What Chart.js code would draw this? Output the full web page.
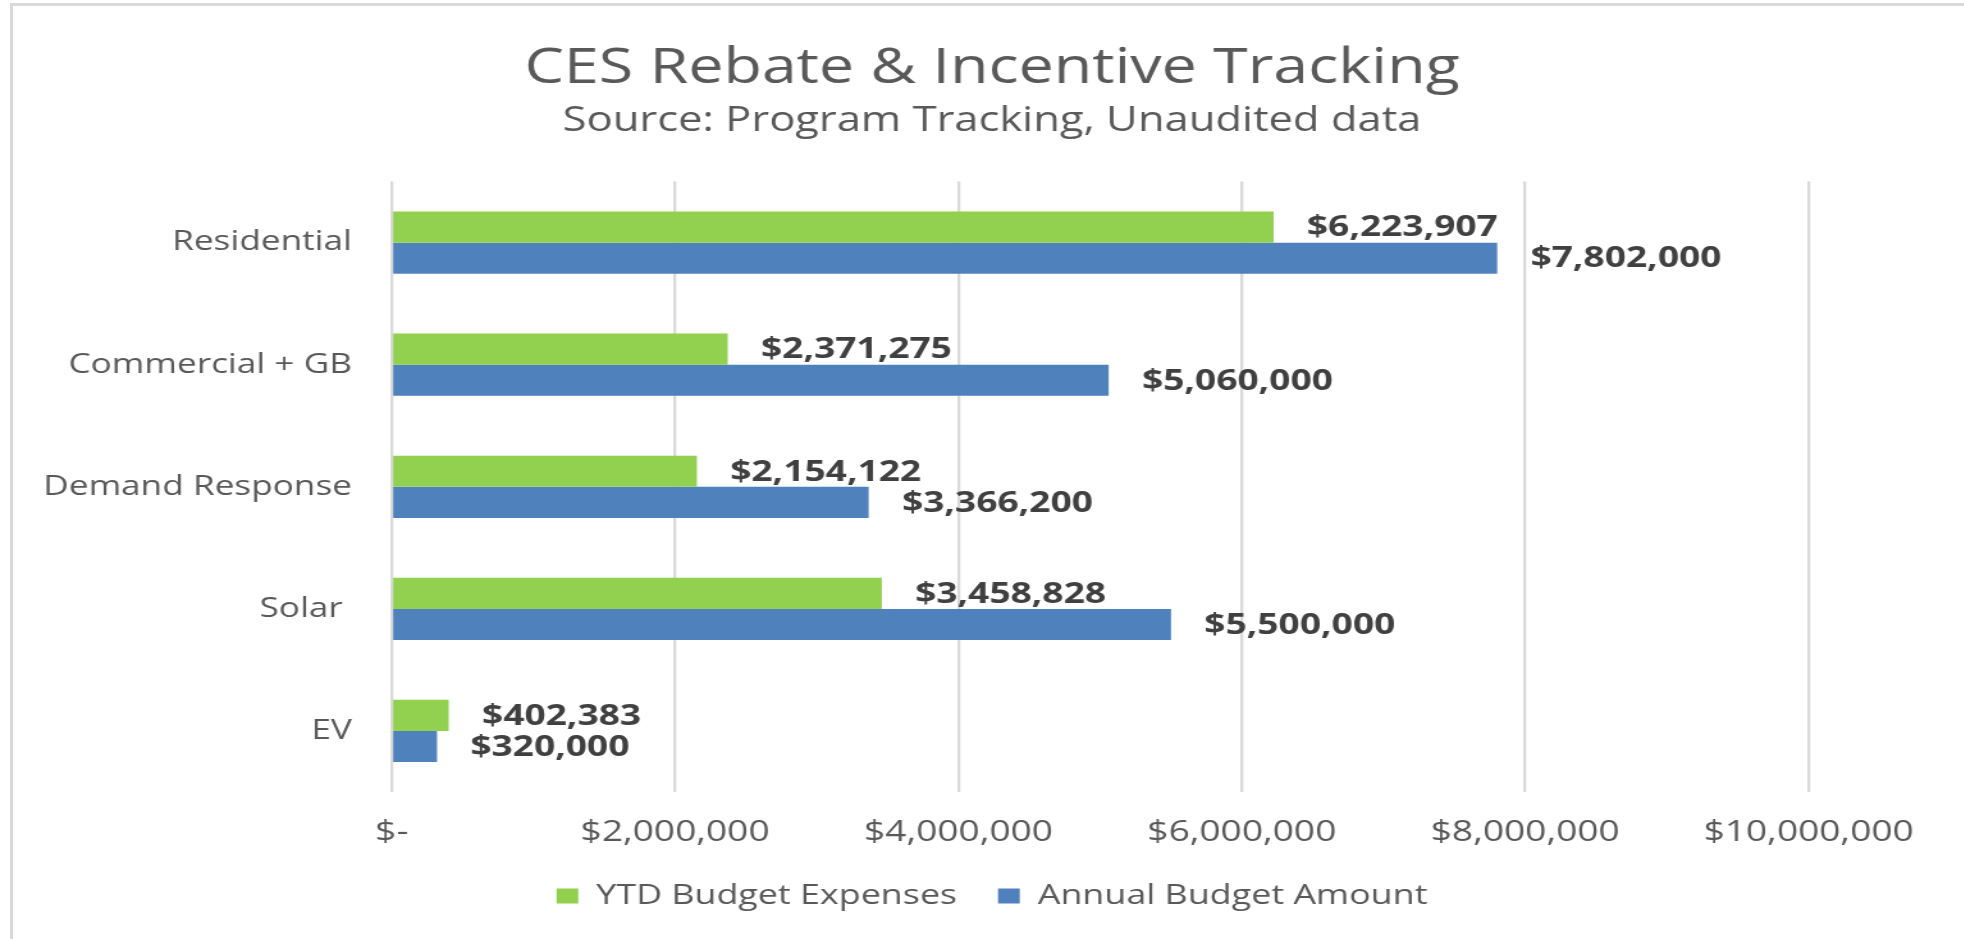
<!DOCTYPE html>
<html>
<head>
<meta charset="utf-8">
<script src="https://cdn.jsdelivr.net/npm/chart.js@4.4.1/dist/chart.umd.min.js"></script>
<style>
  html, body { margin: 0; padding: 0; background: #fff; overflow: hidden; }
  #frame { position: absolute; left: 10px; top: 3px; width: 2000px; height: 1000px;
           border-left: 3px solid #d9d9d9; border-top: 3px solid #d9d9d9; }
  /* the reference is stretched sideways, so the canvas is too */
  #chart { position: absolute; left: 0; top: 0; transform: scaleX(1.28); transform-origin: 0 0; }
</style>
</head>
<body>
<div id="frame"></div>
<canvas id="chart" width="1534" height="939"></canvas>
<script>
'use strict';

// data
const categories = ['Residential', 'Commercial + GB', 'Demand Response', 'Solar ', 'EV'];
const ytdExpenses = [6223907, 2371275, 2154122, 3458828, 402383];
const annualBudget = [7802000, 5060000, 3366200, 5500000, 320000];
const xTickValues = [0, 2000000, 4000000, 6000000, 8000000, 10000000];

const GREEN = '#92D050';
const BLUE = '#4F81BD';
const TEXT = '#595959';
const FONT = "'Open Sans', 'DejaVu Sans', sans-serif";

const money = (v) => v === 0 ? '$-' : '$' + Number(v).toLocaleString('en-US');

// bar value labels, drawn just past the end of each bar
const valueLabels = {
  id: 'valueLabels',
  afterDatasetsDraw(chart) {
    const ctx = chart.ctx;
    ctx.save();
    ctx.font = `bold 29px ${FONT}`;
    ctx.fillStyle = '#404040';
    ctx.textAlign = 'left';
    ctx.textBaseline = 'middle';
    chart.data.datasets.forEach((ds, i) => {
      chart.getDatasetMeta(i).data.forEach((bar, j) => {
        ctx.fillText(money(ds.data[j]), bar.x + 26, bar.y + 1);
      });
    });
    ctx.restore();
  }
};

new Chart(document.getElementById('chart'), {
  type: 'bar',
  data: {
    labels: categories,
    datasets: [
      { label: 'YTD Budget Expenses', data: ytdExpenses, backgroundColor: GREEN },
      { label: 'Annual Budget Amount', data: annualBudget, backgroundColor: BLUE }
    ]
  },
  options: {
    indexAxis: 'y',
    responsive: false,
    animation: false,
    devicePixelRatio: 1,
    layout: { padding: { left: 16, right: 0, top: 0, bottom: 19 } },
    datasets: { bar: { categoryPercentage: 0.51, barPercentage: 1.0 } },
    plugins: {
      title: {
        display: true,
        text: 'CES Rebate & Incentive Tracking',
        color: TEXT,
        font: { family: FONT, size: 49, weight: 'normal' },
        padding: { top: 40, bottom: 2 }
      },
      subtitle: {
        display: true,
        text: 'Source: Program Tracking, Unaudited data',
        color: TEXT,
        font: { family: FONT, size: 34, weight: 'normal' },
        padding: { top: 0, bottom: 40 }
      },
      legend: {
        position: 'bottom',
        labels: {
          color: TEXT,
          font: { family: FONT, size: 28 },
          boxWidth: 17,
          boxHeight: 15,
          padding: 32
        }
      },
      tooltip: { enabled: false }
    },
    scales: {
      x: {
        min: 0,
        max: 10000000,
        afterBuildTicks: (axis) => { axis.ticks = xTickValues.map(v => ({ value: v })); },
        afterFit: (axis) => { axis.height = 58; axis.paddingRight = 121; },
        ticks: {
          callback: (v) => money(v),
          color: TEXT,
          font: { family: FONT, size: 29 },
          padding: 23,
          maxRotation: 0
        },
        grid: { color: '#d9d9d9', lineWidth: 2.3, drawTicks: false },
        border: { display: false }
      },
      y: {
        afterFit: (axis) => { axis.width = 290; },
        ticks: {
          color: TEXT,
          font: { family: FONT, size: 27.5 },
          padding: 31
        },
        grid: { display: false, drawTicks: false },
        border: { display: false }
      }
    }
  },
  plugins: [valueLabels]
});
</script>
</body>
</html>
